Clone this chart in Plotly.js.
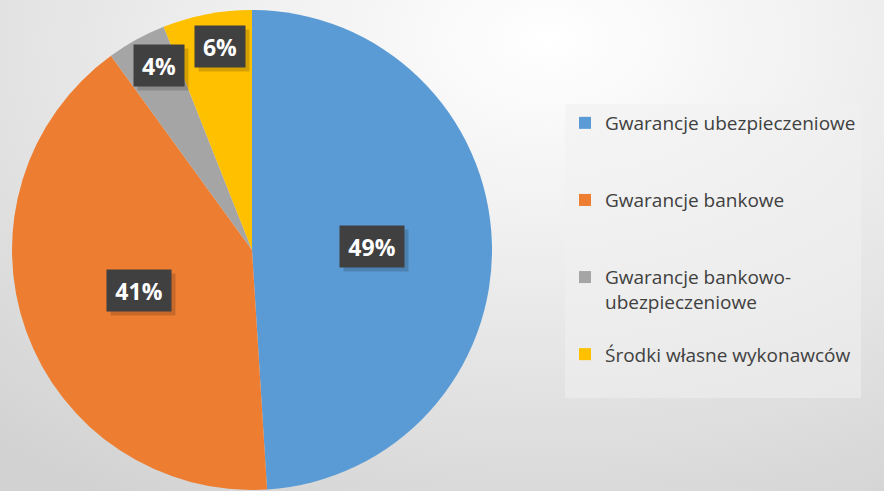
<!DOCTYPE html>
<html>
<head>
<meta charset="utf-8">
<script src="https://cdn.plot.ly/plotly-3.0.1.min.js"></script>
<style>
  html, body { margin: 0; padding: 0; }
  body { width: 884px; height: 491px; overflow: hidden;
         background: radial-gradient(ellipse 95% 110% at 62% 8%, #ffffff 0%, #eeeeee 40%, #d2d2d2 100%); }
  #chart { width: 884px; height: 491px; }
</style>
</head>
<body>
<div id="chart"></div>
<script>
// ---- data ----
const labels = ["Gwarancje ubezpieczeniowe", "Gwarancje bankowe", "Gwarancje bankowo-ubezpieczeniowe", "Środki własne wykonawców"];
const legendText = ["Gwarancje ubezpieczeniowe<br>&nbsp;<br>&nbsp;", "Gwarancje bankowe<br>&nbsp;<br>&nbsp;", "Gwarancje bankowo-<br>ubezpieczeniowe<br>&nbsp;", "Środki własne wykonawców<br>&nbsp;"];
const values = [49, 41, 4, 6];
const colors = ["#5B9BD5", "#ED7D31", "#A5A5A5", "#FFC000"];

// ---- layout geometry ----
const W = 884, H = 491;
const cx = 252, cy = 250, R = 240;

const total = values.reduce((a, b) => a + b, 0);
const annotations = [];
let cum = 0;
values.forEach((v, i) => {
  const share = v / total;
  const mid = (cum + share / 2) * 2 * Math.PI + (share > 0.1 ? 0 : 0.035);
  cum += share;
  const rf = share > 0.1 ? 0.5 : 0.86;
  const px = cx + rf * R * Math.sin(mid);
  const py = cy - rf * R * Math.cos(mid);
  const txt = Math.round(share * 100) + "%";
  const w = share > 0.1 ? 64 : 50, h = 41;
  // shadow
  annotations.push({
    x: (px + 4) / W, y: 1 - (py + 4) / H, xref: "paper", yref: "paper",
    xanchor: "center", yanchor: "middle",
    text: "&nbsp;", showarrow: false, width: w, height: h,
    bgcolor: "rgba(0,0,0,0.16)", borderpad: 0, font: { size: 22 }
  });
  annotations.push({
    x: px / W, y: 1 - py / H, xref: "paper", yref: "paper",
    xanchor: "center", yanchor: "middle",
    text: "<b>" + txt + "</b>", showarrow: false, width: w, height: h,
    bgcolor: "#404040", borderpad: 0,
    font: { family: "Open Sans, sans-serif", size: 23, color: "#ffffff" }
  });
});

const trace = {
  type: "pie",
  labels: legendText,
  values: values,
  sort: false,
  direction: "clockwise",
  rotation: 0,
  marker: { colors: colors, line: { width: 0 } },
  textinfo: "none",
  hoverinfo: "none",
  domain: { x: [(cx - R) / W, (cx + R) / W], y: [1 - (cy + R) / H, 1 - (cy - R) / H] }
};

const layout = {
  width: W, height: H,
  margin: { l: 0, r: 0, t: 0, b: 0 },
  paper_bgcolor: "rgba(0,0,0,0)",
  plot_bgcolor: "rgba(0,0,0,0)",
  showlegend: true,
  legend: {
    x: 565 / W, xanchor: "left", y: 1 - 104 / H, yanchor: "top",
    bgcolor: "rgba(240,240,240,0.55)",
    valign: "top",
    font: { family: "Open Sans, sans-serif", size: 19, color: "#404040" },
    itemclick: false, itemdoubleclick: false
  },
  annotations: annotations
};

Plotly.newPlot("chart", [trace], layout, { displayModeBar: false, staticPlot: true });
</script>
</body>
</html>
